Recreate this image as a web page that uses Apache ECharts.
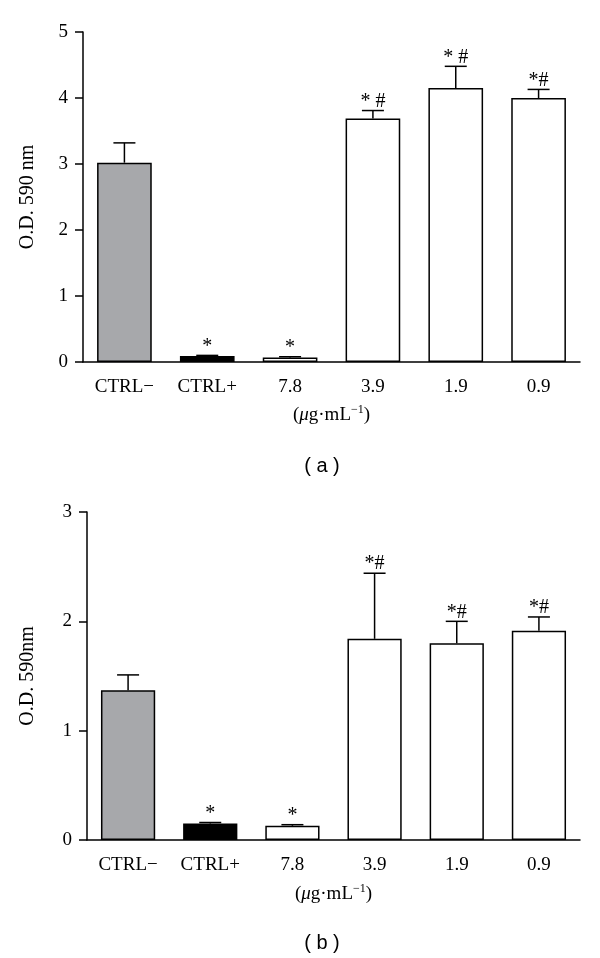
<!DOCTYPE html>
<html>
<head>
<meta charset="utf-8">
<script src="https://cdn.jsdelivr.net/npm/echarts@6/dist/echarts.min.js"></script>
<style>html,body{margin:0;padding:0;background:#fff}#c{width:600px;height:958px}</style>
</head>
<body>
<div id="c"></div>
<script>
const categories = ['CTRL\u2212', 'CTRL+', '7.8', '3.9', '1.9', '0.9'];
const barColors = ['#a7a8ab', '#000000', '#ffffff', '#ffffff', '#ffffff', '#ffffff'];

const valuesA = [3.02, 0.09, 0.07, 3.69, 4.15, 4.00];
const upperA  = [3.32, 0.10, 0.08, 3.81, 4.48, 4.13];
const sigA    = ['', '*', '*', '* #', '* #', '*#'];
const ticksA  = [0, 1, 2, 3, 4, 5];

const valuesB = [1.37, 0.15, 0.13, 1.84, 1.80, 1.915];
const upperB  = [1.51, 0.16, 0.14, 2.44, 2.00, 2.04];
const sigB    = ['', '*', '*', '*#', '*#', '*#'];
const ticksB  = [0, 1, 2, 3];

const SERIF = 'Liberation Serif';
const chart = echarts.init(document.getElementById('c'));

function errItem(params, api) {
  const idx = api.value(0);
  const top = api.coord([idx, api.value(2)]);
  const base = api.coord([idx, api.value(1)]);
  const half = 11;
  const children = [
    {type: 'line', shape: {x1: top[0], y1: base[1], x2: top[0], y2: top[1]}, style: {stroke: '#000', lineWidth: 1.5}},
    {type: 'line', shape: {x1: top[0] - half, y1: top[1], x2: top[0] + half, y2: top[1]}, style: {stroke: '#000', lineWidth: 1.5}}
  ];
  const s = api.value(3);
  if (s) {
    children.push({type: 'text', x: top[0], y: top[1] + 1,
      style: {text: s, fontFamily: SERIF, fontSize: 20, fill: '#000', align: 'center', verticalAlign: 'bottom'}});
  }
  return {type: 'group', children: children};
}

function buildErr(values, upper, sig) {
  return categories.map((c, i) => [i, values[i], upper[i], sig[i]]);
}
function buildBars(values) {
  return values.map((v, i) => ({value: v, itemStyle: {color: barColors[i]}}));
}

const subtitle = {
  name: '{p|(}{i|\u03bc}{p|g\u00b7mL}{s|\u22121}{p|)}',
  nameLocation: 'middle',
  nameTextStyle: {
    rich: {
      p: {fontFamily: SERIF, fontSize: 19, color: '#000'},
      i: {fontFamily: SERIF, fontSize: 19, color: '#000', fontStyle: 'italic'},
      s: {fontFamily: SERIF, fontSize: 12, color: '#000', padding: [0, 0, 10, 0]}
    }
  }
};

function xAx(gridIndex, gap) {
  return Object.assign({
    type: 'category', gridIndex: gridIndex, data: categories,
    axisLine: {lineStyle: {color: '#000', width: 1.5}},
    axisTick: {alignWithLabel: true, length: 9, lineStyle: {color: '#000', width: 1.5}},
    axisLabel: {fontFamily: SERIF, fontSize: 19, color: '#000', margin: 16},
    nameGap: gap
  }, subtitle);
}
function yAx(gridIndex, max, gap, name) {
  return {
    type: 'value', gridIndex: gridIndex, min: 0, max: max, interval: 1,
    name: name, nameLocation: 'middle', nameGap: gap,
    nameTextStyle: {fontFamily: SERIF, fontSize: 20, color: '#000'},
    axisLine: {show: true, lineStyle: {color: '#000', width: 1.5}},
    axisTick: {show: true, length: 8, lineStyle: {color: '#000', width: 1.5}},
    axisLabel: {fontFamily: SERIF, fontSize: 19, color: '#000', margin: 15},
    splitLine: {show: false}
  };
}

chart.setOption({
  animation: false,
  backgroundColor: '#fff',
  grid: [
    {left: 83, right: 20, top: 32, height: 330},
    {left: 87, right: 20, top: 512, height: 328}
  ],
  xAxis: [xAx(0, 42), xAx(1, 43)],
  yAxis: [yAx(0, 5, 45, 'O.D. 590 nm'), yAx(1, 3, 49, 'O.D. 590nm')],
  graphic: [
    {type: 'text', x: 322, y: 466, style: {text: '( a )', fontFamily: 'Liberation Sans', fontSize: 20, fill: '#000', align: 'center', verticalAlign: 'middle'}},
    {type: 'text', x: 322, y: 943, style: {text: '( b )', fontFamily: 'Liberation Sans', fontSize: 20, fill: '#000', align: 'center', verticalAlign: 'middle'}}
  ],
  series: [
    {type: 'bar', xAxisIndex: 0, yAxisIndex: 0, barWidth: '66%', data: buildBars(valuesA),
      itemStyle: {borderColor: '#000', borderWidth: 1.5}},
    {type: 'custom', xAxisIndex: 0, yAxisIndex: 0, renderItem: errItem, data: buildErr(valuesA, upperA, sigA), z: 5},
    {type: 'bar', xAxisIndex: 1, yAxisIndex: 1, barWidth: '66%', data: buildBars(valuesB),
      itemStyle: {borderColor: '#000', borderWidth: 1.5}},
    {type: 'custom', xAxisIndex: 1, yAxisIndex: 1, renderItem: errItem, data: buildErr(valuesB, upperB, sigB), z: 5}
  ]
});
</script>
</body>
</html>
